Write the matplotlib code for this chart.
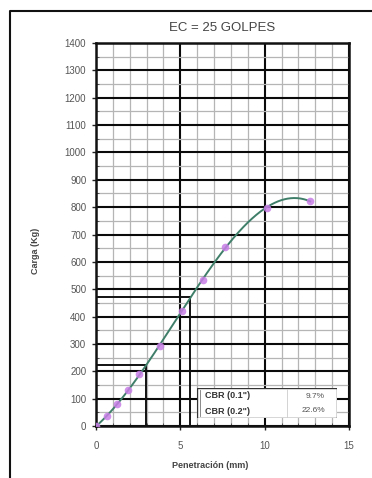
import numpy as np
import matplotlib
matplotlib.use("Agg")
import matplotlib.pyplot as plt
from matplotlib.lines import Line2D
from matplotlib.patches import Rectangle

plt.rcParams['font.family'] = ['Liberation Sans', 'DejaVu Sans']

title = "EC = 25 GOLPES"
xlabel = "Penetración (mm)"
ylabel = "Carga (Kg)"
penetracion = [0.0, 0.64, 1.27, 1.91, 2.54, 3.81, 5.08, 6.35, 7.62, 10.16, 12.70]
carga = [0, 35, 80, 132, 190, 292, 422, 535, 655, 797, 822]
cbr_pen = [2.96, 5.55]
cbr_load = [222, 470]
table_rows = [('CBR (0.1")', '9.7%'), ('CBR (0.2")', '22.6%')]
xticks = [0, 5, 10, 15]
yticks = list(range(0, 1401, 100))

W, H = 372, 478
fig = plt.figure(figsize=(W / 100, H / 100), dpi=100)
ax = fig.add_axes([96 / W, 1 - 426 / H, (349 - 96) / W, (426 - 43) / H])

ax.set_xlim(0, 15)
ax.set_ylim(0, 1400)
ax.set_xticks(xticks)
ax.set_yticks(yticks)
ax.set_xticks(np.arange(0, 15.01, 1), minor=True)
ax.set_yticks(np.arange(0, 1400.1, 50), minor=True)
ax.grid(True, which='major', color='#0a0a0a', linewidth=1.5, zorder=1)
ax.grid(True, which='minor', color='#b5b5b5', linewidth=0.9, zorder=0)
ax.set_axisbelow(True)
for s in ax.spines.values():
    s.set_linewidth(1.8)
    s.set_color('#111111')
ax.tick_params(axis='both', which='major', labelsize=7, labelcolor='#555555',
               length=3, width=1, color='#222222')
ax.tick_params(axis='x', which='major', pad=8)
ax.tick_params(axis='y', which='major', pad=4)
ax.tick_params(axis='both', which='minor', length=2, direction='in', color='#444444')

# Trend line (cubic fit of the data)
coef = np.polyfit(penetracion, carga, 3)
xs = np.linspace(0, penetracion[-1], 200)
ax.plot(xs, np.polyval(coef, xs), color='#3f7f6a', linewidth=1.4, zorder=4)
ax.plot(penetracion, carga, 'o', color='#c77ee6', markersize=5.5,
        markeredgewidth=0, alpha=0.85, zorder=5)

# CBR reference lines
for xp, yp in zip(cbr_pen, cbr_load):
    ax.plot([xp, xp], [0, yp], color='#111111', linewidth=1.4, zorder=3)
    ax.plot([0, xp], [yp, yp], color='#111111', linewidth=1.4, zorder=3)

# Table box
tx0, ty0, tw, th = 197, 388, 140, 30
ax_tab = fig.add_axes([tx0 / W, 1 - (ty0 + th) / H, tw / W, th / H])
ax_tab.set_xlim(0, tw)
ax_tab.set_ylim(th, 0)
ax_tab.axis('off')
ax_tab.add_patch(Rectangle((0, 0), tw, th, facecolor='white', edgecolor='#333333',
                           linewidth=1.0))
ax_tab.plot([2.5, 2.5], [2, th - 2], color='#777777', linewidth=0.6)
ax_tab.plot([90, 90], [1, th - 1], color='#cccccc', linewidth=0.6)
for i, (a, b) in enumerate(table_rows):
    yy = 8 + i * 15
    ax_tab.text(8, yy, a, fontsize=6.5, fontweight='bold', color='#333333', va='center')
    ax_tab.text(128, yy, b, fontsize=6, color='#555555', va='center', ha='right')

fig.text(222 / W, 1 - 28 / H, title, ha='center', va='center', fontsize=9.5, color='#444444')
fig.text(210 / W, 1 - 466 / H, xlabel, ha='center', va='center', fontsize=6.5,
         fontweight='bold', color='#444444')
fig.text(35 / W, 1 - 251 / H, ylabel, ha='center', va='center', fontsize=6.5,
         fontweight='bold', color='#444444', rotation=90)

# Outer frame (left and top)
fig.add_artist(Line2D([10 / W, 10 / W, 1.0], [0.0, 1 - 11 / H, 1 - 11 / H],
                      transform=fig.transFigure, color='#111111', linewidth=1.5))

fig.savefig('out.png', dpi=100)
